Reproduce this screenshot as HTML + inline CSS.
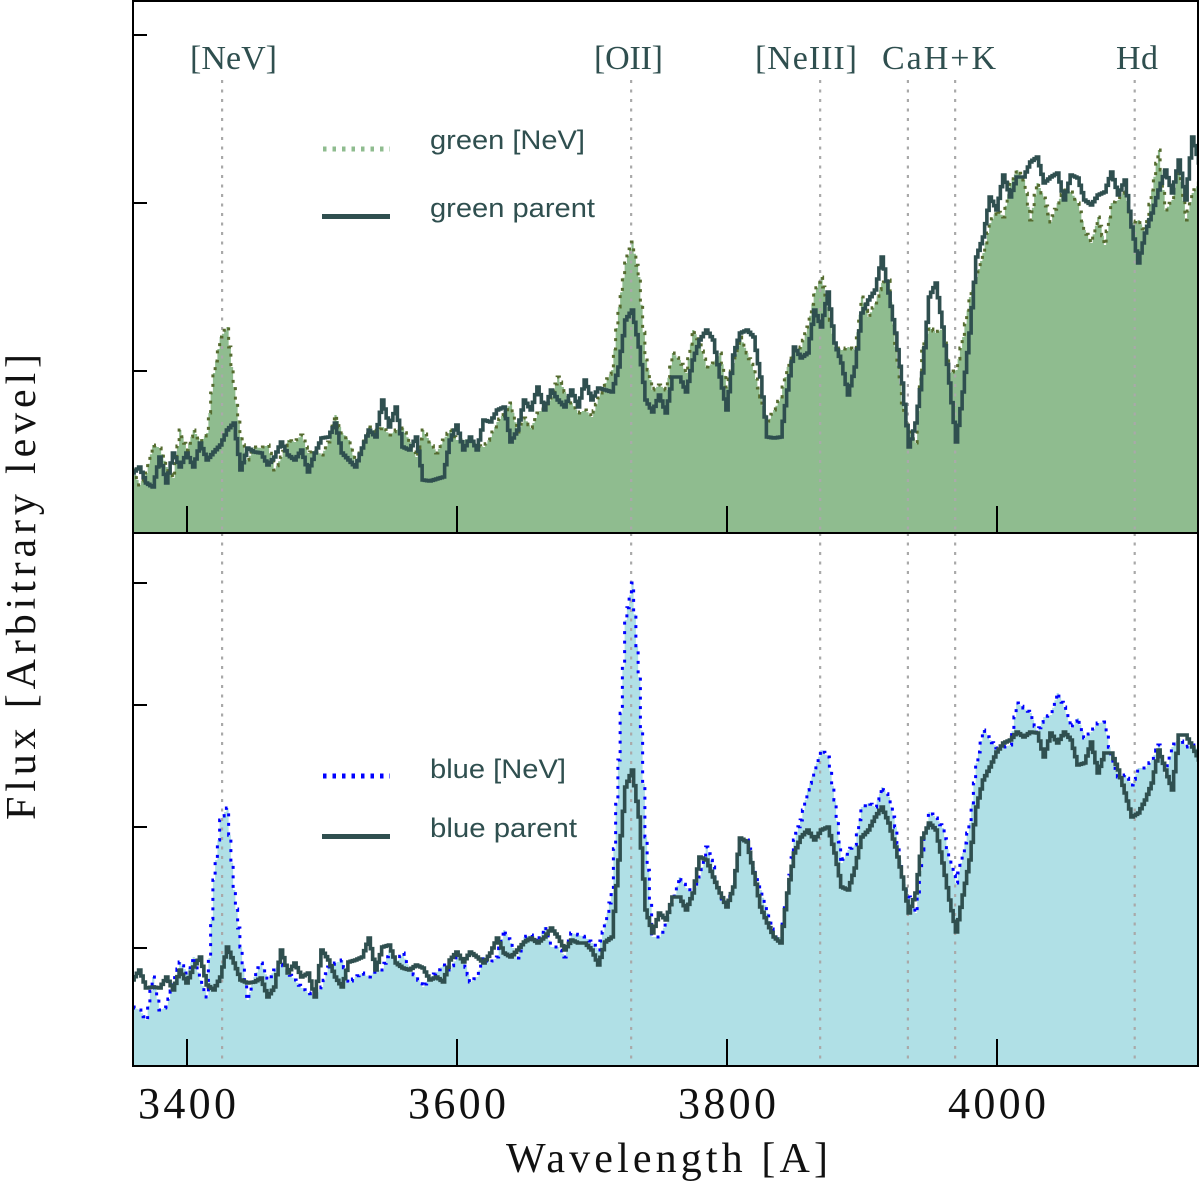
<!DOCTYPE html>
<html lang="en">
<head>
<meta charset="utf-8">
<title>Stacked spectra</title>
<style>
html,body{margin:0;padding:0;background:#fff;width:1200px;height:1182px;overflow:hidden}
svg{display:block}
.tick-label{font-family:"Liberation Serif",serif;font-size:44px;fill:#111;text-anchor:middle}
.axis-title{font-family:"Liberation Serif",serif;fill:#111}
.line-label{font-family:"Liberation Serif",serif;font-size:34px;fill:#2f4f4f}
.legend-text{font-family:"Liberation Sans",sans-serif;font-size:27px;fill:#2f4f4f}
</style>
</head>
<body>
<svg id="chart" xmlns="http://www.w3.org/2000/svg" width="1200" height="1182" viewBox="0 0 1200 1182">
<defs>
<clipPath id="clip-top"><rect x="133" y="1" width="1065" height="532"/></clipPath>
<clipPath id="clip-bottom"><rect x="133" y="533" width="1065" height="533"/></clipPath>
</defs>
<g id="top-layer" clip-path="url(#clip-top)"></g>
<g id="bottom-layer" clip-path="url(#clip-bottom)"></g>
<g id="axes-layer"></g>

<text class="line-label" x="190" y="69" textLength="87" lengthAdjust="spacing">[NeV]</text>
<text class="line-label" x="594" y="69" textLength="69" lengthAdjust="spacing">[OII]</text>
<text class="line-label" x="755" y="69" textLength="102" lengthAdjust="spacing">[NeIII]</text>
<text class="line-label" x="882" y="69" textLength="114" lengthAdjust="spacing">CaH+K</text>
<text class="line-label" x="1116" y="69" textLength="42" lengthAdjust="spacing">Hd</text>

<line x1="323" x2="390" y1="149" y2="149" stroke="#8fbc8f" stroke-width="5" stroke-dasharray="3.5 6"/>
<text class="legend-text" x="430" y="149" textLength="155" lengthAdjust="spacingAndGlyphs">green [NeV]</text>
<line x1="322" x2="390" y1="216.500" y2="216.500" stroke="#2f4f4f" stroke-width="5"/>
<text class="legend-text" x="430" y="217" textLength="165" lengthAdjust="spacingAndGlyphs">green parent</text>
<line x1="323" x2="390" y1="776" y2="776" stroke="#0000ff" stroke-width="5" stroke-dasharray="3.5 6"/>
<text class="legend-text" x="430" y="778" textLength="136" lengthAdjust="spacingAndGlyphs">blue [NeV]</text>
<line x1="322" x2="390" y1="836.500" y2="836.500" stroke="#2f4f4f" stroke-width="5"/>
<text class="legend-text" x="430" y="837" textLength="147" lengthAdjust="spacingAndGlyphs">blue parent</text>

<text class="axis-title" x="506" y="1172" font-size="42" textLength="322" lengthAdjust="spacing">Wavelength [A]</text>
<text class="axis-title" transform="translate(35,820) rotate(-90)" font-size="42" textLength="466" lengthAdjust="spacing">Flux [Arbitrary level]</text>
</svg>
<script>
const waveStart = 3360;
const waveStep = 5;
const xTicks = [3400, 3600, 3800, 4000];
const lineWaves = [3426, 3729, 3869, 3934, 3969, 4102];
const topYTicks = [162, 330, 498];
const bottomYTicks = [118, 239, 361, 483];

const greenNev = [
63,48,60,88,85,66,55,103,83,103,
91,100,160,196,206,146,96,73,86,85,
88,63,76,93,91,98,80,83,78,91,
118,100,93,70,85,106,101,106,98,103,
105,91,76,103,91,80,93,103,93,93,
95,88,86,96,111,120,130,101,115,105,
120,126,135,156,141,130,120,123,116,135,
150,163,226,270,291,256,173,143,148,143,
180,173,160,203,190,166,170,180,146,170,
196,180,163,136,110,123,136,166,183,186,
206,240,256,226,186,183,186,183,236,216,
230,250,253,186,130,103,90,186,206,200,
205,160,163,196,236,256,280,310,323,316,
350,363,353,313,350,335,311,330,343,341,
330,303,290,316,288,330,333,343,310,313,
300,343,383,323,333,370,313,340,350];

const greenParent = [
60,66,50,46,76,50,80,66,80,66,
90,73,81,88,103,110,63,85,81,80,
68,76,91,78,73,83,61,80,95,96,
110,80,73,66,85,103,96,133,106,126,
86,83,96,53,52,54,56,93,108,83,
96,83,113,111,123,126,91,103,133,123,
146,123,143,133,126,143,126,153,133,145,
143,141,166,213,223,186,133,121,138,120,
156,156,141,173,193,203,193,156,123,178,
200,203,196,156,96,95,96,143,186,175,
180,223,206,241,190,170,138,166,220,233,
243,276,240,200,150,86,110,160,236,250,
206,150,91,141,200,276,296,336,323,358,
336,356,356,371,376,350,356,360,333,358,
355,333,328,338,341,361,338,353,306,270,
300,320,343,363,340,373,333,396,370];

const blueNev = [
59,56,46,89,56,59,83,104,93,109,
86,69,186,246,258,176,119,66,89,103,
86,96,104,93,86,78,73,71,79,99,
103,106,83,89,93,89,96,96,116,103,
113,96,89,79,88,94,101,96,109,106,
84,89,109,103,109,136,123,108,129,131,
123,139,119,119,109,133,131,129,123,116,
143,173,306,446,483,389,229,129,129,143,
163,189,178,173,189,219,199,169,163,183,
226,226,199,176,153,129,129,173,226,246,
276,296,316,309,266,203,216,221,259,263,
259,279,269,239,189,169,153,216,254,248,
238,206,183,213,243,303,336,326,318,319,
321,363,358,353,333,349,351,373,359,338,
348,328,334,343,344,306,289,291,281,298,
298,306,321,291,319,328,319,321,316];

const blueParent = [
86,96,78,79,78,89,76,96,83,99,
109,81,76,89,119,103,86,83,84,88,
69,79,116,93,103,89,93,69,116,106,
89,79,104,106,109,128,96,119,121,103,
98,96,101,98,86,89,84,106,114,104,
114,109,103,113,128,113,109,116,124,128,
123,129,138,129,116,126,123,123,116,101,
124,129,206,279,296,249,156,133,153,146,
169,169,156,173,209,206,189,173,159,179,
228,224,193,159,143,129,123,173,213,229,
236,226,236,239,213,179,176,198,229,236,
249,259,243,219,189,153,173,228,243,236,
203,166,134,171,206,259,286,299,314,323,
326,334,329,334,333,309,333,323,334,326,
301,303,324,293,313,313,296,273,249,253,
266,283,316,296,276,331,331,319,306];

const NS = 'http://www.w3.org/2000/svg';
const pxPerA = 1.35;
const subSteps = 3;
function xScale(w) { return 187 + (w - 3400) * pxPerA; }
function yTop(f) { return 533 - f; }
function yBottom(f) { return 1066 - f; }
function stepPoints(values, yFn) {
  let d = 'M' + xScale(waveStart).toFixed(2) + ' ' + yFn(values[0]).toFixed(1);
  for (let i = 0; i < values.length - 1; i++) {
    const x0 = xScale(waveStart + waveStep * i);
    const x1 = xScale(waveStart + waveStep * (i + 1));
    const y0 = yFn(values[i]);
    const y1 = yFn(values[i + 1]);
    for (let s = 1; s <= subSteps; s++) {
      const xs = x0 + (x1 - x0) * s / subSteps;
      const xm = xs - (x1 - x0) / (2 * subSteps);
      const ys = y0 + (y1 - y0) * s / subSteps;
      d += 'L' + xm.toFixed(2) + ' ' + (y0 + (y1 - y0) * (s - 1) / subSteps).toFixed(1);
      d += 'L' + xm.toFixed(2) + ' ' + ys.toFixed(1);
      d += 'L' + xs.toFixed(2) + ' ' + ys.toFixed(1);
    }
  }
  return d;
}
function make(tag, attrs, parent) {
  const el = document.createElementNS(NS, tag);
  Object.keys(attrs).forEach(function (k) { el.setAttribute(k, attrs[k]); });
  parent.appendChild(el);
  return el;
}
function drawPanel(layer, nev, parent, yFn, base, fill, dotColor, guideTop, prefix) {
  const lastX = xScale(waveStart + waveStep * (nev.length - 1)).toFixed(2);
  const firstX = xScale(waveStart).toFixed(2);
  const area = make('path', {d: stepPoints(nev, yFn) + 'L' + lastX + ' ' + base + 'L' + firstX + ' ' + base + 'Z', fill: fill}, layer);
  
  
  lineWaves.forEach(function (w) {
    const g = make('line', {x1: xScale(w), x2: xScale(w), y1: guideTop, y2: base, stroke: '#a9a9a9', 'stroke-width': 2.2, 'stroke-dasharray': '3 6.5'}, layer);
    
    
  });
  const dotted = make('path', {d: stepPoints(nev, yFn), fill: 'none', stroke: dotColor, 'stroke-width': 3, 'stroke-dasharray': '3 6.5'}, layer);
  
  
  const solid = make('path', {d: stepPoints(parent, yFn), fill: 'none', stroke: '#2f4f4f', 'stroke-width': 3.6, 'stroke-linejoin': 'miter'}, layer);
  
  
}
drawPanel(document.getElementById('top-layer'), greenNev, greenParent, yTop, 533, '#8fbc8f', '#556b2f', 80, 'green');
drawPanel(document.getElementById('bottom-layer'), blueNev, blueParent, yBottom, 1066, '#b0e0e6', '#0000ff', 533, 'blue');

const axes = document.getElementById('axes-layer');
xTicks.forEach(function (w) {
  const x = xScale(w);
  const t1 = make('line', {x1: x, x2: x, y1: 533, y2: 506, stroke: '#000', 'stroke-width': 2}, axes);
  
  
  const t2 = make('line', {x1: x, x2: x, y1: 1066, y2: 1039, stroke: '#000', 'stroke-width': 2}, axes);
  
  
  const label = make('text', {x: x, y: 1118, class: 'tick-label', textLength: 98, lengthAdjust: 'spacing'}, axes);
  
  
  label.textContent = String(w);
});
topYTicks.forEach(function (f) {
  const t = make('line', {x1: 133, x2: 147, y1: yTop(f), y2: yTop(f), stroke: '#000', 'stroke-width': 2}, axes);
  
  
});
bottomYTicks.forEach(function (f) {
  const t = make('line', {x1: 133, x2: 147, y1: yBottom(f), y2: yBottom(f), stroke: '#000', 'stroke-width': 2}, axes);
  
  
});
const frameTop = make('rect', {x: 133, y: 1, width: 1065, height: 532, fill: 'none', stroke: '#000', 'stroke-width': 2}, axes);


const frameBottom = make('rect', {x: 133, y: 533, width: 1065, height: 533, fill: 'none', stroke: '#000', 'stroke-width': 2}, axes);


</script>
</body>
</html>
